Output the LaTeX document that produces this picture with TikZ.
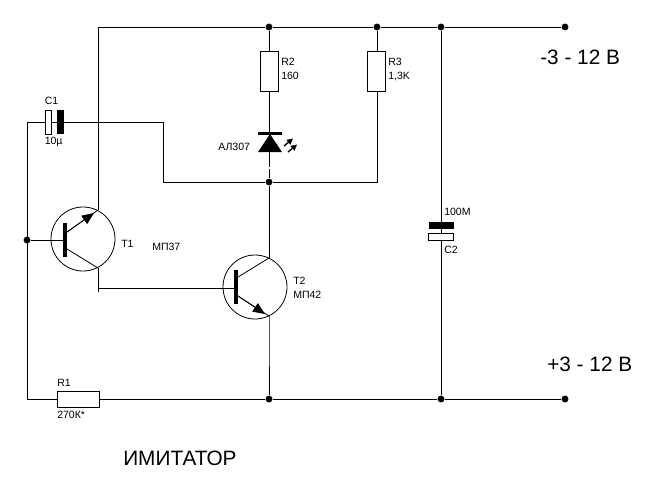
\documentclass[tikz,border=0pt]{standalone}
\usepackage{fontspec}
\setmainfont{Liberation Sans}
\usetikzlibrary{arrows.meta}
\tikzset{
  wire/.style={line width=0.75pt},
  thin wire/.style={line width=0.6pt},
  jdot/.style={circle,fill=black,inner sep=0pt,minimum size=5.2pt},
  resistor/.style={draw=black,line width=0.75pt,fill=white},
  plate/.style={draw=black,line width=0.75pt,fill=white},
  blackplate/.style={fill=black},
  small/.style={anchor=west,inner sep=0pt,font=\fontsize{7.9pt}{9pt}\selectfont},
  big/.style={anchor=west,inner sep=0pt,font=\fontsize{15.6pt}{17pt}\selectfont},
  emit/.style={thin wire,-{Triangle[length=9pt,width=7.5pt]}},
}
\begin{document}
\begin{tikzpicture}[x=0.75pt,y=-0.75pt]
\useasboundingbox (0,0) rectangle (650,494);
% junctions and terminals
\foreach \n/\x/\y in {ja/269/27,jb/377/27,jc/441/27,jd/565/27,je/269/182,jf/27/240,jg/269/399,jh/441/399,ji/565/399}
  \node[jdot] (\n) at (\x,\y) {};
\coordinate (tl) at (98,27);
\coordinate (t1e) at (98,210);
\coordinate (t1c) at (98,268);
\coordinate (t1x) at (98,292);
\coordinate (t1k) at (98,288);
\coordinate (b1) at (65,240);
\coordinate (b2) at (236,288);
\coordinate (c1l) at (27,122);
\coordinate (c1r) at (163,122);
\coordinate (c1d) at (163,182);
\coordinate (c3) at (377,182);
\coordinate (t2c) at (269,258);
\coordinate (t2e) at (269,316);
\coordinate (bl) at (27,399);
% rails
\draw[wire] (tl) -- (ja) -- (jb) -- (jc) -- (jd);
\draw[wire] (bl) -- (jg) -- (jh) -- (ji);
\draw[wire] (tl) -- (t1e);
\draw[wire] (t1c) -- (t1x);
\draw[wire] (t1k) -- (b2);
\draw[wire] (c1l) -- (bl);
\draw[wire] (c1l) -- (c1r) -- (c1d) -- (je) -- (c3) -- (jb);
\draw[wire] (ja) -- (je);
\draw[wire] (je) -- (t2c);
\draw[wire] (t2e) -- (269,339) -- (jg);
\draw[wire] (jc) -- (jh);
\draw[wire] (jf) -- (b1);
% T1
\node[circle,draw=black,line width=0.6pt,inner sep=0pt,minimum size=48pt] (T1) at (83,239) {};
\node[fill=black,inner sep=0pt,minimum width=3.2pt,minimum height=26pt] (T1b) at (65,240) {};
\draw[thin wire] (67,249) -- (t1c);
\draw[thin wire] (67,232) -- (t1e);
\draw[emit] (67,232) -- (94,213);
% T2
\node[circle,draw=black,line width=0.6pt,inner sep=0pt,minimum size=48pt] (T2) at (255,287) {};
\node[fill=black,inner sep=0pt,minimum width=3.2pt,minimum height=25pt] (T2b) at (236,287) {};
\draw[thin wire] (238,277) -- (t2c);
\draw[thin wire] (238,296) -- (t2e);
\draw[emit] (238,296) -- (265,314);
% resistors
\node[resistor,inner sep=0pt,minimum width=12.8pt,minimum height=30.5pt] (R2) at (269.5,71.5) {};
\node[resistor,inner sep=0pt,minimum width=14pt,minimum height=30.5pt] (R3) at (376.5,71.5) {};
\node[resistor,inner sep=0pt,minimum width=31.5pt,minimum height=12pt] (R1) at (78,399.5) {};
% C1
\node[plate,inner sep=0pt,minimum width=4.8pt,minimum height=18pt] (C1a) at (48.5,122) {};
\fill[blackplate] (57,110) rectangle (64,134);
% C2
\fill[blackplate] (429,222) rectangle (454,229);
\node[plate,inner sep=0pt,minimum width=18.5pt,minimum height=4.8pt] (C2a) at (441,237) {};
% LED
\fill (258,152) -- (282,152) -- (270,134) -- cycle;
\fill (258,132) rectangle (282,135);
\draw[line width=1pt,-{Triangle[length=4.5pt,width=4.5pt]}] (284,146) -- (293,138.5);
\draw[line width=1pt,-{Triangle[length=4.5pt,width=4.5pt]}] (288,152) -- (297,144.5);
\draw[draw=white,line width=0.8pt] (267,168) -- (272,168);
% labels
\node[small] (lC1) at (44.5,101) {C1};
\node[small] (lC1v) at (44.5,142) {10µ};
\node[small] (lT1) at (121,244) {T1};
\node[small] (lMP1) at (152,247) {МП37};
\node[small] (lT2) at (293,281) {T2};
\node[small] (lMP2) at (293,295) {МП42};
\node[small] (lR2) at (281,62) {R2};
\node[small] (lR2v) at (281,76) {160};
\node[small] (lR3) at (388,62) {R3};
\node[small] (lR3v) at (388,76) {1,3K};
\node[small] (lLED) at (218,147) {АЛ307};
\node[small] (lC2v) at (444,212) {100М};
\node[small] (lC2) at (444,250) {C2};
\node[small] (lR1) at (57,383) {R1};
\node[small] (lR1v) at (57,415) {270К*};
\node[big] (title1) at (540,57.5) {-3 - 12 В};
\node[big] (title2) at (547,364) {+3 - 12 В};
\node[big] (title3) at (123,458) {ИМИТАТОР};
\end{tikzpicture}
\end{document}
